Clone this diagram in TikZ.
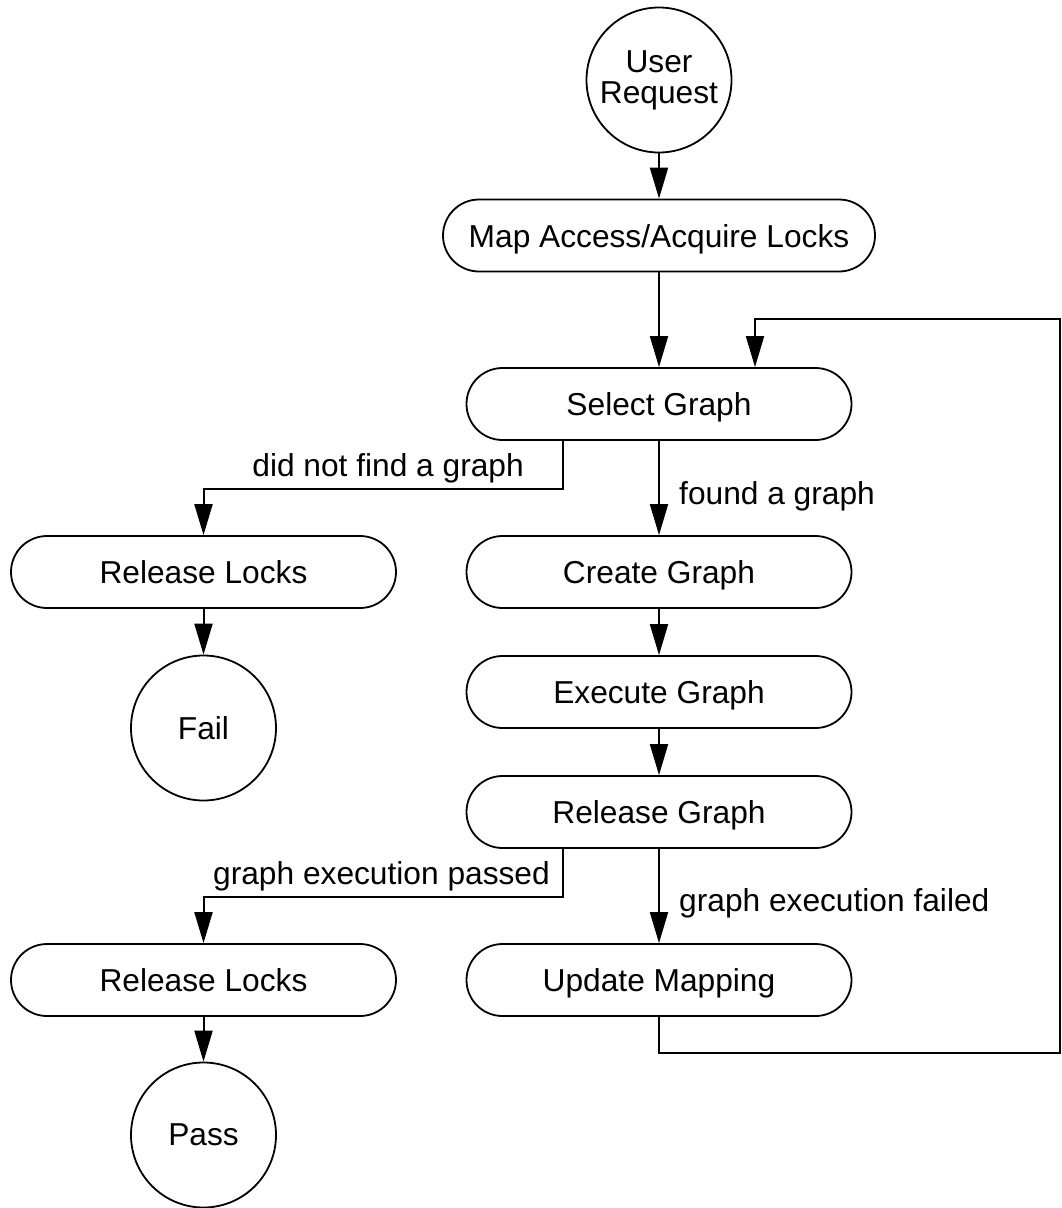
\documentclass[tikz,border=0pt]{standalone}
\usepackage{fontspec}
\setmainfont{Liberation Sans}
\usetikzlibrary{arrows.meta}
\begin{document}
\begin{tikzpicture}[x=1pt,y=-1pt,
  every node/.style={font=\fontsize{31.7}{31}\selectfont},
  term/.style={draw, line width=1.8pt, rounded corners=36pt, minimum width=385pt,
    minimum height=72pt, inner sep=0pt, text height=23pt, text depth=0pt},
  endc/.style={draw, circle, line width=1.8pt, minimum size=145pt, inner sep=0pt, align=center},
  arr/.style={line width=2pt, -{Triangle[length=31pt,width=18pt]}},
  lab/.style={inner sep=0pt}]
\useasboundingbox (0,0) rectangle (1062,1208);
% nodes
\node[endc] (ur) at (659,80) {User\\Request};
\node[term, minimum width=432pt] (map) at (659,235.5) {Map Access/Acquire Locks};
\node[term] (sel) at (659,404) {Select Graph};
\node[term] (rl1) at (203.5,572) {Release Locks};
\node[endc] (fail) at (203.5,728) {Fail};
\node[term] (cre) at (659,572) {Create Graph};
\node[term] (exe) at (659,692) {Execute Graph};
\node[term] (rg) at (659,812) {Release Graph};
\node[term] (rl2) at (203.5,980) {Release Locks};
\node[term] (upd) at (659,980) {Update Mapping};
\node[endc] (pass) at (203.5,1135) {Pass};
% labels
\node[lab, anchor=base east] (l1) at (524,476) {did not find a graph};
\node[lab, anchor=base west] (l2) at (679,504) {found a graph};
\node[lab, anchor=base east] (l3) at (550,884) {graph execution passed};
\node[lab, anchor=base west] (l4) at (679,911) {graph execution failed};
% connectors
\draw[arr] (ur) -- (map);
\draw[arr] (map) -- (sel);
\draw[arr] (sel) -- (cre);
\draw[arr] ([xshift=-96pt]sel.south) -- ++(0,48) -| (rl1.north);
\draw[arr] (rl1) -- (fail);
\draw[arr] (cre) -- (exe);
\draw[arr] (exe) -- (rg);
\draw[arr] (rg) -- (upd);
\draw[arr] ([xshift=-96pt]rg.south) -- ++(0,48) -| (rl2.north);
\draw[arr] (rl2) -- (pass);
\coordinate (lr) at (1060,1053);
\coordinate (tr) at (1060,319);
\draw[arr] (upd.south) |- (lr) -- (tr) -| ([xshift=96pt]sel.north);
\end{tikzpicture}
\end{document}
